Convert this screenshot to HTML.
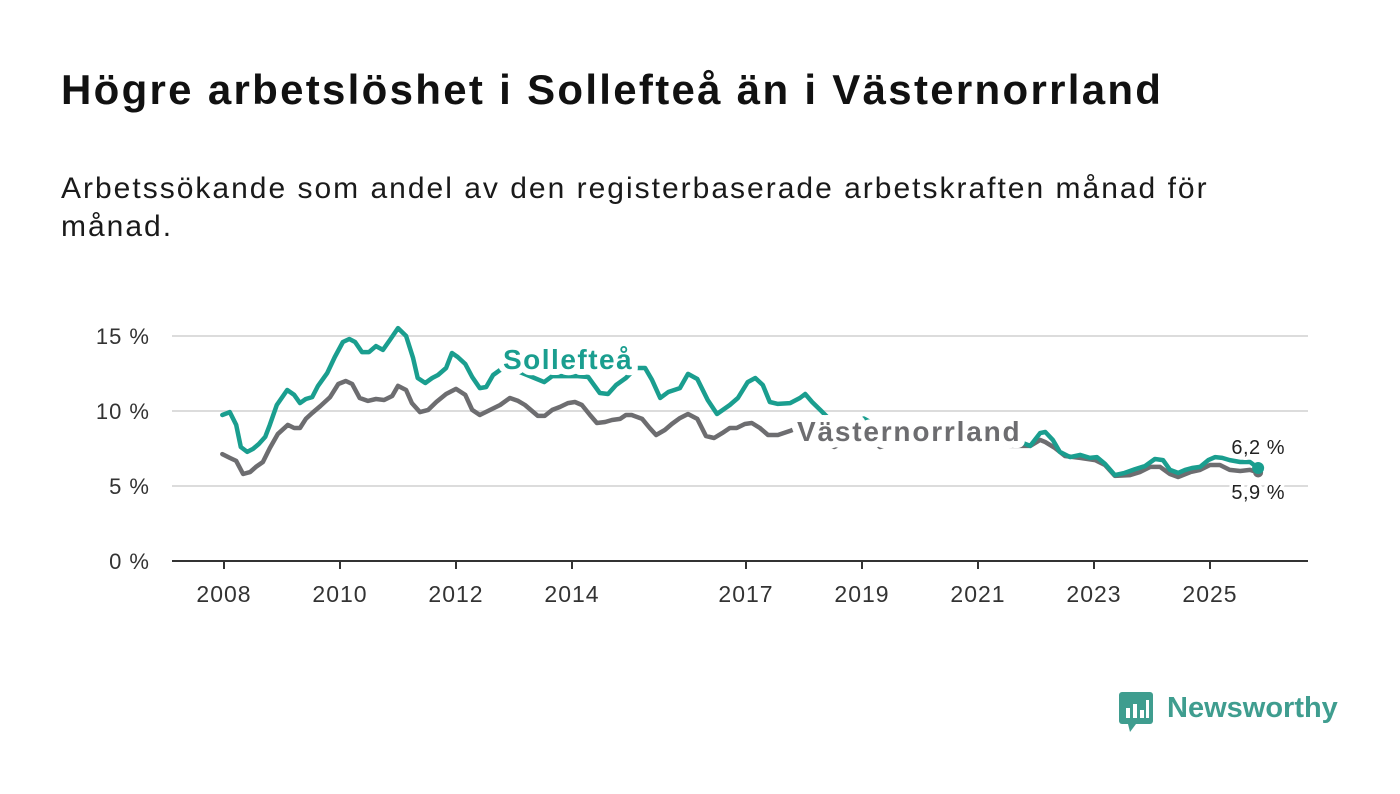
<!DOCTYPE html>
<html><head><meta charset="utf-8"><style>
body{margin:0;background:#fff;width:1400px;height:794px;overflow:hidden;font-family:"Liberation Sans",sans-serif;}
h1{position:absolute;left:61px;top:66px;margin:0;font-size:42px;font-weight:bold;color:#111;letter-spacing:2.3px}
p{position:absolute;left:61px;top:170px;margin:0;font-size:30px;line-height:38px;color:#1a1a1a;width:1200px;letter-spacing:2px}
svg{position:absolute;left:0;top:0}
</style></head><body>
<h1>Högre arbetslöshet i Sollefteå än i Västernorrland</h1>
<p>Arbetssökande som andel av den registerbaserade arbetskraften månad för månad.</p>
<svg id="c" width="1400" height="794"></svg>
<div style="position:absolute;left:1118px;top:690px;height:44px;">
 <svg width="38" height="46" style="position:absolute;left:0;top:0"><rect x="1" y="2" width="34" height="32" rx="3" fill="#3f9d8f"/><polygon points="10,34 18,34 12,42" fill="#3f9d8f"/><rect x="8" y="18" width="4" height="10" fill="#fff"/><rect x="15" y="14" width="4" height="14" fill="#fff"/><rect x="22" y="20" width="4" height="8" fill="#fff"/><rect x="28" y="10" width="3" height="18" fill="#fff"/></svg>
 <span style="position:absolute;left:49px;top:2px;font-size:29px;font-weight:bold;color:#3f9d8f;white-space:nowrap">Newsworthy</span>
</div>
<script>
const yTicks=[0,5,10,15];
const xTicks=[2008,2010,2012,2014,2017,2019,2021,2023,2025];
const solT=[2007.97,2008.10,2008.21,2008.29,2008.40,2008.50,2008.60,2008.71,2008.79,2008.91,2009.09,2009.21,2009.31,2009.41,2009.52,2009.62,2009.78,2009.91,2010.05,2010.16,2010.26,2010.38,2010.50,2010.62,2010.74,2010.86,2011.00,2011.14,2011.26,2011.34,2011.47,2011.59,2011.69,2011.83,2011.93,2012.03,2012.16,2012.28,2012.41,2012.52,2012.64,2012.76,2012.93,2013.10,2013.31,2013.52,2013.66,2013.90,2014.10,2014.28,2014.48,2014.62,2014.76,2014.93,2015.10,2015.26,2015.38,2015.52,2015.66,2015.86,2016.00,2016.16,2016.34,2016.50,2016.72,2016.86,2017.03,2017.16,2017.29,2017.41,2017.55,2017.76,2017.93,2018.02,2018.14,2018.28,2018.53,2018.79,2019.03,2019.31,2019.66,2020.00,2020.34,2020.69,2021.12,2021.55,2021.90,2022.07,2022.16,2022.29,2022.41,2022.59,2022.76,2022.93,2023.05,2023.19,2023.36,2023.53,2023.71,2023.88,2024.05,2024.19,2024.31,2024.45,2024.57,2024.69,2024.83,2024.97,2025.09,2025.21,2025.34,2025.52,2025.69,2025.83];
const solV=[9.73,9.93,9.07,7.6,7.27,7.47,7.8,8.27,9.07,10.4,11.4,11.07,10.53,10.8,10.93,11.67,12.53,13.6,14.6,14.8,14.6,13.93,13.93,14.33,14.07,14.73,15.53,15.0,13.53,12.2,11.87,12.2,12.4,12.87,13.87,13.6,13.13,12.27,11.53,11.6,12.4,12.73,12.87,12.6,12.27,11.93,12.33,12.33,12.33,12.27,11.2,11.13,11.73,12.2,12.87,12.87,12.07,10.87,11.27,11.53,12.47,12.13,10.73,9.8,10.4,10.87,11.93,12.2,11.73,10.6,10.47,10.53,10.87,11.13,10.6,10.07,9.1,8.8,9.5,8.9,8.5,8.3,8.6,8.8,9.0,8.2,7.67,8.53,8.6,8.07,7.27,6.93,7.07,6.87,6.93,6.47,5.73,5.87,6.13,6.33,6.8,6.73,6.07,5.87,6.07,6.2,6.27,6.73,6.93,6.87,6.73,6.6,6.6,6.2];
const vnT=[2007.97,2008.10,2008.21,2008.33,2008.45,2008.55,2008.67,2008.79,2008.93,2009.10,2009.21,2009.31,2009.41,2009.52,2009.66,2009.83,2009.97,2010.10,2010.21,2010.34,2010.48,2010.62,2010.76,2010.90,2011.00,2011.14,2011.24,2011.38,2011.52,2011.66,2011.83,2012.00,2012.16,2012.28,2012.41,2012.59,2012.76,2012.93,2013.07,2013.19,2013.41,2013.53,2013.66,2013.79,2013.93,2014.05,2014.17,2014.31,2014.43,2014.57,2014.69,2014.83,2014.93,2015.03,2015.21,2015.34,2015.45,2015.60,2015.72,2015.86,2016.00,2016.16,2016.31,2016.45,2016.59,2016.72,2016.84,2016.98,2017.10,2017.24,2017.38,2017.55,2017.76,2017.84,2018.19,2018.52,2018.79,2019.03,2019.31,2019.66,2020.17,2020.69,2021.12,2021.55,2021.90,2022.07,2022.16,2022.33,2022.50,2022.76,2023.02,2023.19,2023.36,2023.62,2023.79,2023.97,2024.14,2024.31,2024.45,2024.66,2024.83,2025.00,2025.17,2025.34,2025.52,2025.69,2025.83];
const vnV=[7.13,6.87,6.67,5.8,5.93,6.27,6.6,7.53,8.47,9.07,8.87,8.87,9.47,9.87,10.33,10.93,11.8,12.0,11.8,10.87,10.67,10.8,10.73,11.0,11.67,11.4,10.53,9.93,10.07,10.6,11.13,11.47,11.07,10.07,9.73,10.07,10.4,10.87,10.67,10.4,9.67,9.67,10.07,10.27,10.53,10.6,10.4,9.73,9.2,9.27,9.4,9.47,9.73,9.73,9.47,8.87,8.4,8.73,9.13,9.53,9.8,9.47,8.33,8.2,8.53,8.87,8.87,9.13,9.2,8.87,8.4,8.4,8.67,8.8,8.2,7.6,8.07,8.4,7.6,8.07,8.2,8.2,8.07,7.67,7.67,8.07,7.93,7.53,7.0,6.87,6.73,6.4,5.67,5.73,5.93,6.27,6.27,5.8,5.6,5.93,6.07,6.4,6.4,6.07,6.0,6.07,5.9];
const NS='http://www.w3.org/2000/svg';
const svg=document.getElementById('c');
const X=t=>224+(t-2008)*58;
const Y=v=>561-v*15;
function mk(tag,at,parent){const e=document.createElementNS(NS,tag);for(const k in at)e.setAttribute(k,at[k]);(parent||svg).appendChild(e);return e;}
yTicks.forEach(v=>{
  if(v>0){const g=mk('line',{x1:172,x2:1308,y1:Y(v),y2:Y(v),stroke:'#dcdcdc','stroke-width':2});
  
  }
  const t=mk('text',{x:150,y:Y(v)+8,'text-anchor':'end','font-size':22,'letter-spacing':1,fill:'#333','font-family':'Liberation Sans, sans-serif'});
  t.textContent=v+' %';
  
  
});
const ax=mk('line',{x1:172,x2:1308,y1:561,y2:561,stroke:'#333','stroke-width':2});


xTicks.forEach(yr=>{
  const tk=mk('line',{x1:X(yr),x2:X(yr),y1:561,y2:569,stroke:'#333','stroke-width':2});
  
  
  const t=mk('text',{x:X(yr),y:602,'text-anchor':'middle','font-size':23,'letter-spacing':1,fill:'#333','font-family':'Liberation Sans, sans-serif'});
  t.textContent=yr;
  
  
});
function line(T,V,col,name){
  const d=T.map((t,i)=>(i?'L':'M')+X(t).toFixed(1)+','+Y(V[i]).toFixed(1)).join('');
  const p=mk('path',{d:d,fill:'none',stroke:col,'stroke-width':4.5,'stroke-linejoin':'round','stroke-linecap':'round'});
  
  
}
line(vnT,vnV,'#6d6d70','vasternorrland-line');
line(solT,solV,'#1a9e8f','solleftea-line');
const d1=mk('circle',{cx:X(vnT[vnT.length-1]),cy:Y(vnV[vnV.length-1]),r:5,fill:'#6d6d70'});


const d2=mk('circle',{cx:X(solT[solT.length-1]),cy:Y(solV[solV.length-1]),r:6,fill:'#1a9e8f'});


function lbl(x,y,txt,col,size,bold,name,anchor,ls,sw){
  const t=mk('text',{x:x,y:y,'font-size':size,'font-weight':bold?'bold':'normal','letter-spacing':ls||0,fill:col,stroke:'#fff','stroke-width':sw||7,'paint-order':'stroke','stroke-linejoin':'round','font-family':'Liberation Sans, sans-serif','text-anchor':anchor||'start'});
  t.textContent=txt;
  
  
}
lbl(503,369,'Sollefteå','#1a9e8f',28,true,'solleftea-label','start',1.5,12);
lbl(797,441,'Västernorrland','#6d6d70',28,true,'vasternorrland-label','start',1.8,14);
lbl(1285,454,'6,2 %','#222',20,false,'solleftea-end-value','end',0.5,7);
lbl(1285,499,'5,9 %','#222',20,false,'vasternorrland-end-value','end',0.5,7);
</script>
</body></html>
